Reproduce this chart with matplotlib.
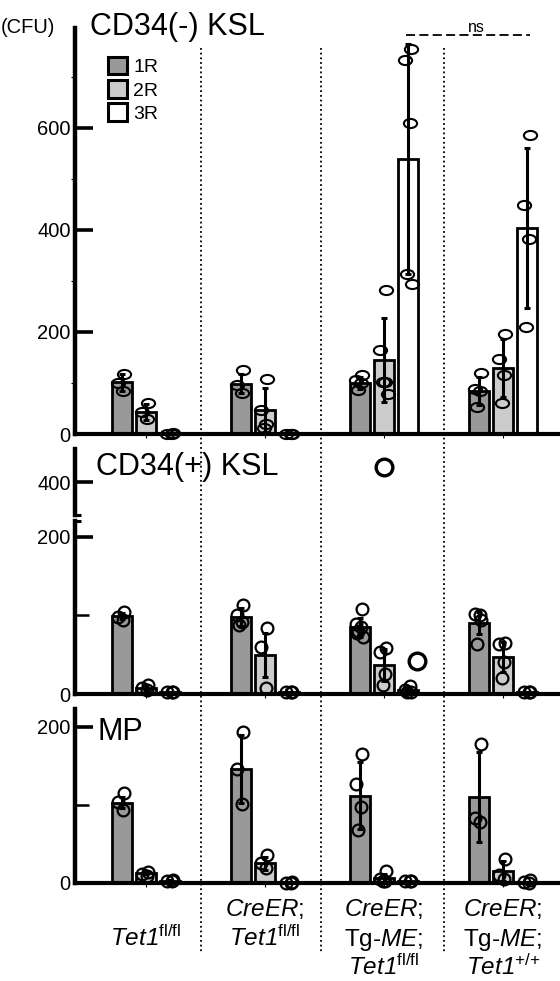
import numpy as np
import matplotlib
matplotlib.use("Agg")
import matplotlib.pyplot as plt
from matplotlib.path import Path
from matplotlib.patches import Patch
from matplotlib.transforms import blended_transform_factory

plt.rcParams['font.family'] = ['Liberation Sans', 'DejaVu Sans']
plt.rcParams['mathtext.fontset'] = 'custom'
plt.rcParams['mathtext.rm'] = 'Liberation Sans:italic'
plt.rcParams['mathtext.it'] = 'Liberation Sans:italic'
plt.rcParams['mathtext.sf'] = 'Liberation Sans'
plt.rcParams['mathtext.bf'] = 'Liberation Sans:bold'

# ---------------- data ----------------
rounds = ["1R", "2R", "3R"]
group_labels = [
    [r"$Tet1^{\mathsf{fl/fl}}$"],
    [r"$CreER$;", r"$Tet1^{\mathsf{fl/fl}}$"],
    [r"$CreER$;", r"Tg-$ME$;", r"$Tet1^{\mathsf{fl/fl}}$"],
    [r"$CreER$;", r"Tg-$ME$;", r"$Tet1^{\mathsf{{+}/{+}}}$"],
]
panel_titles = ["CD34(-) KSL", "CD34(+) KSL", "MP"]

# CD34(-) KSL
neg_mean_1R = [101, 99, 100, 84]
neg_mean_2R = [43, 47, 145, 129]
neg_mean_3R = [1, 1, 539, 404]
neg_err_1R = [16, 19, 12, 28]
neg_err_2R = [16, 43, 82, 57]
neg_err_3R = [0, 0, 225, 157]
neg_pts_1R = [[117, 100, 85], [126, 96, 80], [116, 105, 100, 86], [120, 88, 84, 52]]
neg_pts_2R = [[60, 43, 29], [108, 48, 20, 12], [282, 165, 102, 102, 78], [196, 147, 116, 61]]
neg_pts_3R = [[1, 0, 0], [0, 0, 0], [755, 733, 610, 314, 294], [586, 449, 382, 210]]

# CD34(+) KSL
pos_mean_1R = [99, 98, 85, 90]
pos_mean_2R = [8, 50, 37, 47]
pos_mean_3R = [2, 2, 5, 2]
pos_err_1R = [4, 11, 12, 14]
pos_err_2R = [3, 28, 20, 19]
pos_err_3R = [1, 1, 3, 1]
pos_pts_1R = [[104, 98, 94], [113, 100, 92, 88], [108, 89, 85, 80, 73, 78], [94, 102, 101, 64]]
pos_pts_2R = [[12, 8, 5], [84, 60, 8], [58, 53, 25, 11], [65, 63, 41, 20]]
pos_pts_3R = [[3, 2, 2], [3, 2, 2], [2, 5, 10, 3], [3, 2, 2]]
pos_outlier_2R = [None, None, 419, None]
pos_outlier_3R = [None, None, 42, None]

# MP
mp_mean_1R = [103, 146, 112, 110]
mp_mean_2R = [13, 25, 6, 15]
mp_mean_3R = [3, 1, 2, 1]
mp_err_1R = [7, 44, 43, 58]
mp_err_2R = [2, 8, 5, 13]
mp_err_3R = [1, 0, 1, 0]
mp_pts_1R = [[115, 104, 93], [193, 146, 101], [165, 127, 97, 68], [178, 83, 78]]
mp_pts_2R = [[14, 11, 9], [36, 25, 19], [15, 5, 2, 2], [31, 10, 5]]
mp_pts_3R = [[4, 3, 3], [1, 0, 0], [3, 2, 3], [4, 1, 0]]

# ---------------- layout helpers ----------------
W, H = 560, 981
fig = plt.figure(figsize=(W / 100, H / 100), dpi=100)

def fx(px):
    return px / W

def fy(py):
    return 1 - py / H

def add_axes(left, right, top, bottom):
    return fig.add_axes([fx(left), fy(bottom), (right - left) / W, (bottom - top) / H])

group_pos = np.arange(4)
bar_off = [-0.204, 0.0, 0.204]
bar_w = 0.17
fills = ["#999999", "#cccccc", "#ffffff"]
XLIM = (-0.597, 3.479)
jit = [0.02, -0.03, 0.012, -0.012, 0.03, -0.022]

circ = Path.unit_circle()
ellipse = Path(circ.vertices * np.array([1.45, 1.0]), circ.codes)

def style_axes(ax, show_bottom=True):
    ax.set_xlim(*XLIM)
    ax.spines['top'].set_visible(False)
    ax.spines['right'].set_visible(False)
    ax.spines['left'].set_linewidth(3.2)
    ax.spines['bottom'].set_linewidth(3.0)
    ax.patch.set_alpha(0)
    if show_bottom:
        ax.set_xticks(group_pos)
        ax.tick_params(axis='x', direction='out', length=3, width=0.8, labelbottom=False)
    else:
        ax.spines['bottom'].set_visible(False)
        ax.set_xticks([])
    ax.tick_params(axis='y', which='major', direction='in', length=13, width=2.6,
                   labelsize=14.5, pad=3)

def draw_panel(ax, means, errs, pts, marker, ms, mew):
    for r in range(3):
        x = group_pos + bar_off[r]
        ax.bar(x, means[r], width=bar_w, color=fills[r], edgecolor='black',
               linewidth=2.0, zorder=2)
        ax.errorbar(x, means[r], yerr=errs[r], fmt='none', ecolor='black',
                    elinewidth=2.2, capsize=2.5, capthick=2.2, zorder=3)
        for g in range(4):
            vals = pts[r][g]
            xs = [x[g] + jit[i % len(jit)] for i in range(len(vals))]
            ax.plot(xs, vals, linestyle='none', marker=marker, ms=ms, mfc='none',
                    mec='black', mew=mew, zorder=4, clip_on=False)

# ---------------- panel 1: CD34(-) KSL ----------------
ax1 = add_axes(75, 560, 28, 434)
style_axes(ax1)
ax1.set_ylim(0, 796)
ax1.set_yticks([0, 200, 400, 600])
ax1.set_yticks([100, 300, 500, 700], minor=True)
ax1.tick_params(axis='y', which='minor', direction='out', length=3, width=0.8)
draw_panel(ax1, [neg_mean_1R, neg_mean_2R, neg_mean_3R],
           [neg_err_1R, neg_err_2R, neg_err_3R],
           [neg_pts_1R, neg_pts_2R, neg_pts_3R], ellipse, 9.5, 1.5)

# ns bracket
x3a = group_pos[2] + bar_off[2] - 0.02
x3b = group_pos[3] + bar_off[2] + 0.02
ax1.plot([x3a, x3b], [782, 782], color='black', lw=1.3, ls=(0, (5, 2.4)), clip_on=False)
ax1.text(2.78, 789, "ns", ha='center', va='baseline', fontsize=11.5, clip_on=False)

# ---------------- panel 2: CD34(+) KSL (broken axis) ----------------
ax2u = add_axes(75, 560, 449, 515)
style_axes(ax2u, show_bottom=False)
ax2u.set_ylim(358, 442)
ax2u.set_yticks([400])
ax2 = add_axes(75, 560, 521, 694)
style_axes(ax2)
ax2.set_ylim(0, 220)
ax2.set_yticks([0, 200])
ax2.set_yticks([100], minor=True)
ax2.tick_params(axis='y', which='minor', direction='in', length=10, width=1.8)
draw_panel(ax2, [pos_mean_1R, pos_mean_2R, pos_mean_3R],
           [pos_err_1R, pos_err_2R, pos_err_3R],
           [pos_pts_1R, pos_pts_2R, pos_pts_3R], 'o', 8.5, 1.6)
for r, outl in ((1, pos_outlier_2R), (2, pos_outlier_3R)):
    for g in range(4):
        if outl[g] is None:
            continue
        xo = group_pos[g] + bar_off[r] + (0.0 if r == 1 else 0.07)
        target = ax2u if outl[g] > 220 else ax2
        target.plot([xo], [outl[g]], linestyle='none', marker='o', ms=12, mfc='none',
                    mec='black', mew=2.4, zorder=5, clip_on=False)
# break caps on the y spine
for a, yy in ((ax2u, 0.0), (ax2, 1.0)):
    a.plot([-0.004, 0.012], [yy, yy], transform=a.transAxes, color='black', lw=2.2,
           clip_on=False, solid_capstyle='butt')

# ---------------- panel 3: MP ----------------
ax3 = add_axes(75, 560, 709, 883)
style_axes(ax3)
ax3.set_ylim(0, 223)
ax3.set_yticks([0, 200])
ax3.set_yticks([100], minor=True)
ax3.tick_params(axis='y', which='minor', direction='in', length=10, width=1.8)
draw_panel(ax3, [mp_mean_1R, mp_mean_2R, mp_mean_3R],
           [mp_err_1R, mp_err_2R, mp_err_3R],
           [mp_pts_1R, mp_pts_2R, mp_pts_3R], 'o', 8.5, 1.6)

# ---------------- separators ----------------
blend = blended_transform_factory(ax1.transData, fig.transFigure)
for xs in (0.462, 1.471, 2.504):
    ax1.plot([xs, xs], [fy(48), fy(952)], transform=blend, color='black', lw=1.3,
             ls=(0, (1, 1.6)), clip_on=False, zorder=1)

# ---------------- texts ----------------
fig.text(fx(1), fy(33), "(CFU)", fontsize=14.5, ha='left', va='baseline')
fig.text(fx(90), fy(35), panel_titles[0], fontsize=22, ha='left', va='baseline')
fig.text(fx(96), fy(475), panel_titles[1], fontsize=22, ha='left', va='baseline')
fig.text(fx(97), fy(740), panel_titles[2], fontsize=22, ha='left', va='baseline')

row_base = [916, 946, 975]
blend_lab = blended_transform_factory(ax1.transData, fig.transFigure)
for g, lines in enumerate(group_labels):
    start = 1 if len(lines) == 1 else 0
    for i, line in enumerate(lines):
        ax1.text(group_pos[g], fy(row_base[start + i]), line, transform=blend_lab,
                 ha='center', va='baseline', fontsize=17.5, clip_on=False)

# ---------------- legend ----------------
handles = [Patch(facecolor=fills[i], edgecolor='black', linewidth=2.2, label=rounds[i])
           for i in range(3)]
fig.legend(handles=handles, loc='upper left', bbox_to_anchor=(fx(108), fy(57)),
           frameon=False, borderpad=0, borderaxespad=0, handlelength=1.0,
           handleheight=1.0, handletextpad=0.3, labelspacing=0.2, fontsize=14)

fig.savefig("out.png", dpi=100)
